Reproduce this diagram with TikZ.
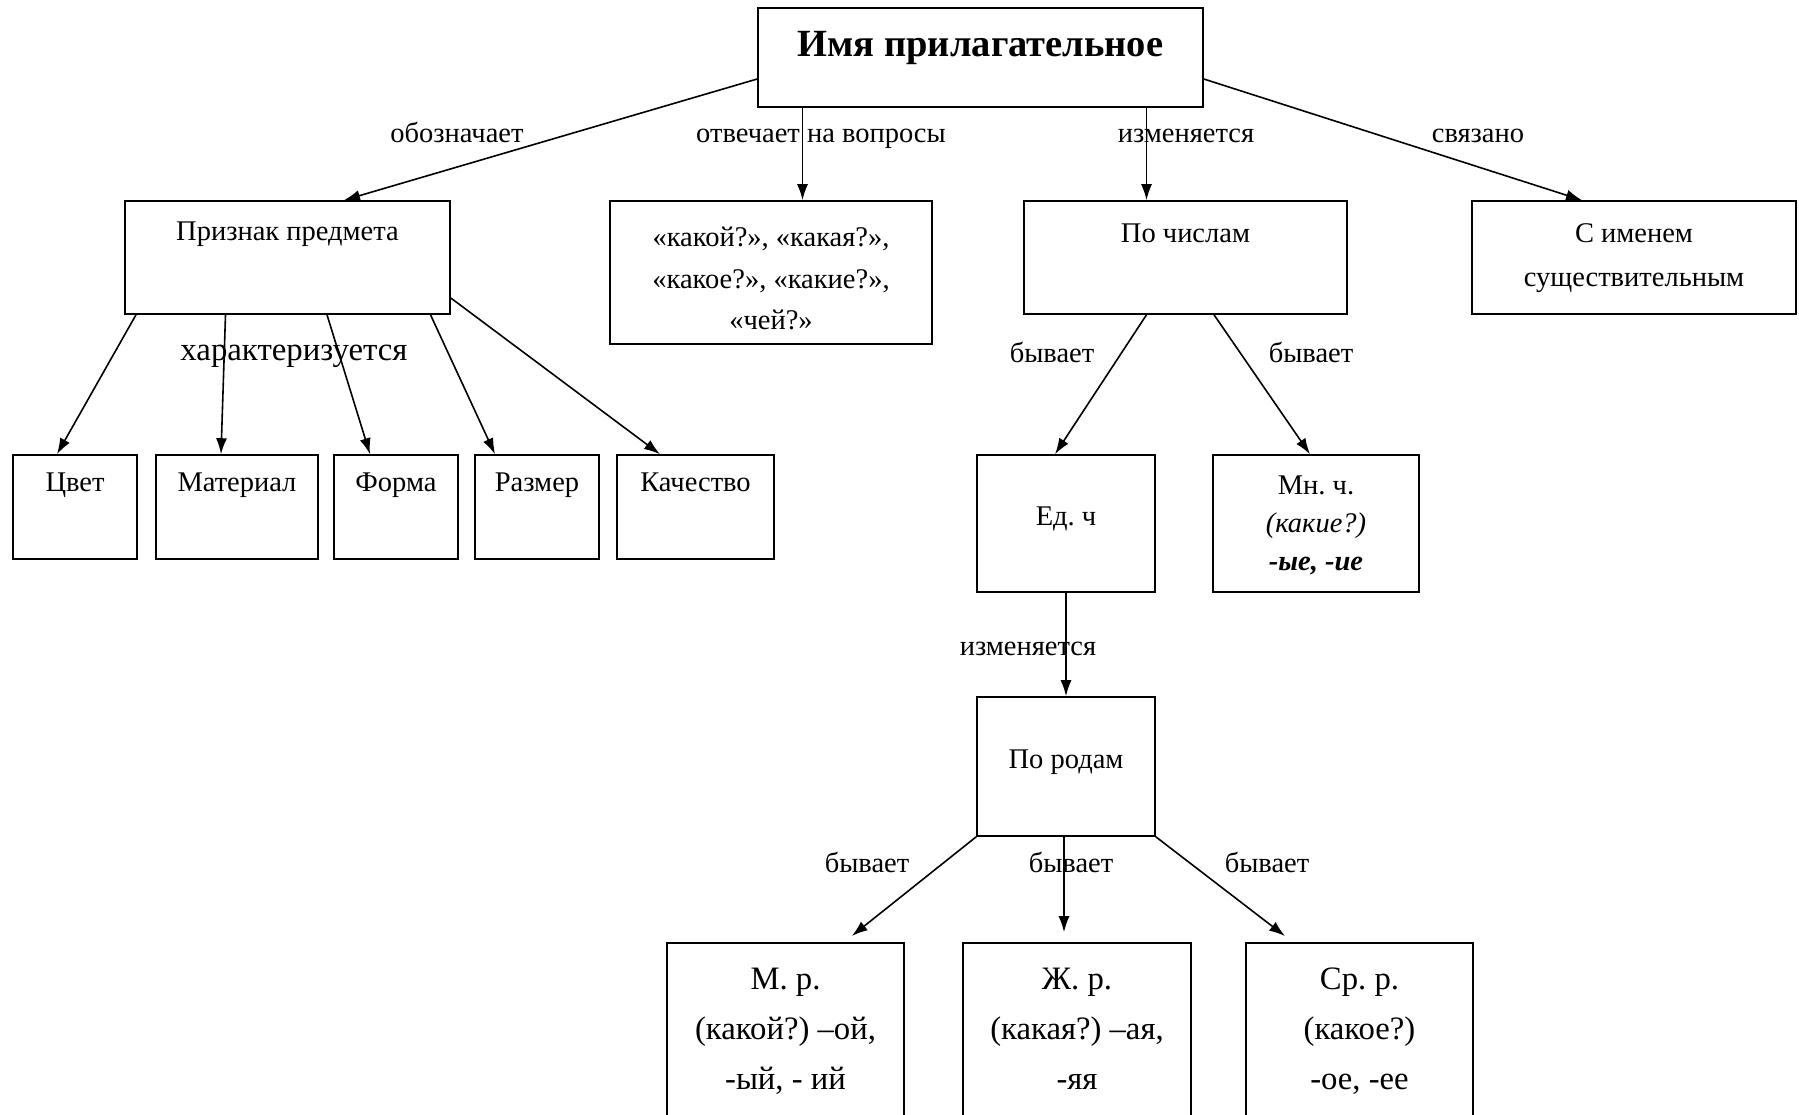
\documentclass[tikz,border=0pt]{standalone}
\usepackage{fontspec}
\setmainfont{Liberation Serif}
\usetikzlibrary{arrows.meta}
\frenchspacing

\begin{document}
\begin{tikzpicture}[x=1pt,y=-1pt,->,>={Latex[length=16pt,width=11pt]},line width=1.6pt,
    box/.style={draw,rectangle,inner sep=0pt},
    txt/.style={inner sep=0pt,align=center,font=\fontsize{28.5}{38}\selectfont},
    bigtxt/.style={inner sep=0pt,align=center,anchor=north,font=\fontsize{32.7}{50}\selectfont}]
	\useasboundingbox (0,0) rectangle (1799,1115);
	\clip (0,0) rectangle (1799,1115);

	\node[box,minimum width=445pt,minimum height=99pt] (root) at (980.5,57.5) {};
	\node[box,minimum width=325pt,minimum height=113pt] (pr) at (287.5,257.5) {};
	\node[box,minimum width=322pt,minimum height=143pt] (qu) at (771,272.5) {};
	\node[box,minimum width=323pt,minimum height=113pt] (pc) at (1185.5,257.5) {};
	\node[box,minimum width=324pt,minimum height=113pt] (sc) at (1634,257.5) {};
	\node[box,minimum width=124pt,minimum height=104pt] (cv) at (75,507) {};
	\node[box,minimum width=162pt,minimum height=104pt] (mt) at (237,507) {};
	\node[box,minimum width=124pt,minimum height=104pt] (fm) at (396,507) {};
	\node[box,minimum width=124pt,minimum height=104pt] (rz) at (537,507) {};
	\node[box,minimum width=157pt,minimum height=104pt] (kc) at (695.5,507) {};
	\node[box,minimum width=178pt,minimum height=137pt] (ed) at (1066,523.5) {};
	\node[box,minimum width=206pt,minimum height=137pt] (mn) at (1316,523.5) {};
	\node[box,minimum width=178pt,minimum height=139pt] (pd) at (1066,766.5) {};
	\node[box,minimum width=237pt,minimum height=192pt] (mr) at (785.5,1039) {};
	\node[box,minimum width=228pt,minimum height=192pt] (zh) at (1077,1039) {};
	\node[box,minimum width=227pt,minimum height=192pt] (sr) at (1359.5,1039) {};

	\node[txt,anchor=base,font=\fontsize{38.5}{44}\selectfont\bfseries] (roott) at ([yshift=-49]root.north) {Имя прилагательное};
	\node[txt,anchor=base] (prt) at ([yshift=-40]pr.north) {Признак предмета};
	\node[txt,anchor=north,font=\fontsize{28.5}{41.5}\selectfont] (qut) at ([yshift=-26]qu.north) {«какой?», «какая?»,\\«какое?», «какие?»,\\«чей?»};
	\node[txt,anchor=base] (pct) at ([yshift=-42]pc.north) {По числам};
	\node[txt,anchor=north,font=\fontsize{28.5}{44}\selectfont] (sct) at ([yshift=-23]sc.north) {С именем\\существительным};
	\node[txt,anchor=base] (cvt) at ([yshift=-37]cv.north) {Цвет};
	\node[txt,anchor=base] (mtt) at ([yshift=-37]mt.north) {Материал};
	\node[txt,anchor=base] (fmt) at ([yshift=-37]fm.north) {Форма};
	\node[txt,anchor=base] (rzt) at ([yshift=-37]rz.north) {Размер};
	\node[txt,anchor=base] (kct) at ([yshift=-37]kc.north) {Качество};
	\node[txt,anchor=base] (edt) at ([yshift=-71]ed.north) {Ед. ч};
	\node[txt,anchor=north] (mnt) at ([yshift=-21]mn.north) {Мн. ч.\\\textit{(какие?)}\\\textbf{\textit{-ые, -ие}}};
	\node[txt,anchor=base] (pdt) at ([yshift=-72]pd.north) {По родам};
	\node[bigtxt] (mrt) at ([yshift=-25]mr.north) {М. р.\\(какой?) –ой,\\-ый, - ий};
	\node[bigtxt] (zht) at ([yshift=-25]zh.north) {Ж. р.\\(какая?) –ая,\\-яя};
	\node[bigtxt] (srt) at ([yshift=-25]sr.north) {Ср. р.\\(какое?)\\-ое, -ее};

	\node[txt,anchor=base] (l1) at (457,143) {обозначает};
	\node[txt,anchor=base] (l2) at (821,143) {отвечает на вопросы};
	\node[txt,anchor=base] (l3) at (1186,143) {изменяется};
	\node[txt,anchor=base] (l4) at (1478,143) {связано};
	\node[txt,anchor=base,font=\fontsize{32.8}{38}\selectfont] (l5) at (294,360) {характеризуется};
	\node[txt,anchor=base] (l6) at (1052,362) {бывает};
	\node[txt,anchor=base] (l7) at (1311,362) {бывает};
	\node[txt,anchor=base] (l8) at (1028,655) {изменяется};
	\node[txt,anchor=base] (l9) at (867,872) {бывает};
	\node[txt,anchor=base] (l10) at (1071,872) {бывает};
	\node[txt,anchor=base] (l11) at (1267,872) {бывает};

	\draw ([yshift=-21.5]root.west) -- ([xshift=56.5]pr.north);
	\draw ([xshift=-178]root.south) -- ([xshift=31.5]qu.north);
	\draw ([xshift=166]root.south) -- ([xshift=-39]pc.north);
	\draw ([yshift=-21.5]root.east) -- ([xshift=-52]sc.north);
	\draw ([xshift=-151.5]pr.south) -- ([xshift=-18]cv.north);
	\draw ([xshift=-62]pr.south) -- ([xshift=-16]mt.north);
	\draw ([xshift=39.5]pr.south) -- ([xshift=-26]fm.north);
	\draw ([xshift=143]pr.south) -- ([xshift=-42]rz.north);
	\draw ([yshift=-40.5]pr.east) -- ([xshift=-35.5]kc.north);
	\draw ([xshift=-39]pc.south) -- ([xshift=-11]ed.north);
	\draw ([xshift=28.5]pc.south) -- ([xshift=-6]mn.north);
	\draw (ed) -- (pd);
	\draw[shorten >=10pt] (pd.south west) -- ([xshift=58.5]mr.north);
	\draw[shorten >=10pt] ([xshift=-2]pd.south) -- ([xshift=-13]zh.north);
	\draw[shorten >=10pt] (pd.south east) -- ([xshift=-66.5]sr.north);
\end{tikzpicture}
\end{document}
